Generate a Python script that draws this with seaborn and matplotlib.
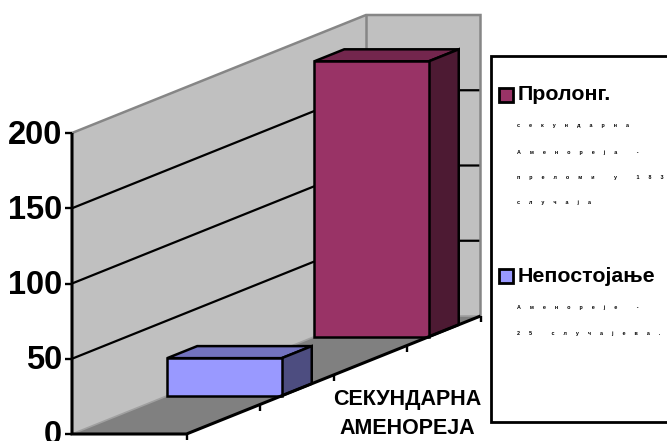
import matplotlib
matplotlib.use("Agg")
import matplotlib.pyplot as plt
from matplotlib.patches import Polygon, Rectangle
import pandas as pd
import seaborn as sns

plt.rcParams["font.family"] = ["Liberation Sans", "DejaVu Sans"]

# Chart data
series_names = ["Непостојање", "Пролонг."]
series_values = [25, 183]
series_slots = [1, 3]          # position of each series along the depth axis
series_colors = ["#9999FF", "#993366"]
top_colors = ["#7373BF", "#73264D"]
side_colors = ["#4D4D80", "#4D1A33"]
y_ticks = [0, 50, 100, 150, 200]
category_label = "СЕКУНДАРНА\nАМЕНОРЕЈА"
legend_groups = [
    ("Пролонг.", "#993366", ["секундарна", "Аменореја -", "преломи у 183", "случаја"]),
    ("Непостојање", "#9999FF", ["Аменореје -", "25 случајева."]),
]

W, H = 667, 441
fig = plt.figure(figsize=(W / 100, H / 100), dpi=100)
ax = fig.add_axes([0, 0, 1, 1])

# Single full-figure axes: x runs in pixels, y in chart units (1.5 px per unit)
PX = 1.505
Y0_PIXEL = 434
ax.set_xlim(0, W)
ax.set_ylim(-(H - Y0_PIXEL) / PX, Y0_PIXEL / PX)

# Oblique projection of the depth axis
X0, FLOOR_W = 72, 114.5
DEPTH_X, DEPTH_Y = 294, 118 / PX
VMAX = 200
SLOTS = 4
BAR_DEPTH = 0.102


def proj(u, depth, value):
    """Map (width fraction, depth fraction, value) to axes data coordinates."""
    return X0 + FLOOR_W * u + DEPTH_X * depth, value + DEPTH_Y * depth


def face(points, color, edge=None, lw=0.0, z=1):
    ax.add_patch(Polygon([proj(*p) for p in points], closed=True, facecolor=color,
                         edgecolor=edge or color, linewidth=lw, zorder=z, joinstyle="miter"))


def line(points, color, lw, z=2):
    xs, ys = zip(*[proj(*p) for p in points])
    ax.plot(xs, ys, color=color, lw=lw, zorder=z, solid_capstyle="butt",
            solid_joinstyle="miter", clip_on=False)


# Front faces come from the bar plot, then move to their place along the depth axis
frame = pd.DataFrame({"series": series_names, "value": series_values})
sns.barplot(data=frame, x="series", y="value", hue="series", palette=series_colors,
            saturation=1, legend=False, dodge=False, ax=ax)
ax.set_xlim(0, W)
ax.set_ylim(-(H - Y0_PIXEL) / PX, Y0_PIXEL / PX)
bars = [bar for container in ax.containers for bar in container]

# Walls and floor
GREY = "#868686"
face([(0, 0, 0), (0, 1, 0), (0, 1, VMAX), (0, 0, VMAX)], "#C0C0C0")
face([(0, 1, 0), (1, 1, 0), (1, 1, VMAX), (0, 1, VMAX)], "#C0C0C0")
face([(0, 0, 0), (1, 0, 0), (1, 1, 0), (0, 1, 0)], "#808080")

# Gridlines
for v in y_ticks[1:-1]:
    line([(0, 0, v), (0, 1, v), (1, 1, v)], "black", 1.6)
line([(0, 0, VMAX), (0, 1, VMAX), (1, 1, VMAX), (1, 1, 0)], GREY, 1.8)
line([(0, 1, VMAX), (0, 1, 0)], GREY, 1.8)
line([(0, 0, 0), (0, 1, 0), (1, 1, 0)], "#A0A0A0", 1.2)

for bar, value, slot, top, side in zip(bars, series_values, series_slots,
                                       top_colors, side_colors):
    d0 = (slot + 0.5) / SLOTS - BAR_DEPTH / 2
    d1 = d0 + BAR_DEPTH
    x0, base = proj(0, d0, 0)
    bar.set_x(x0)
    bar.set_y(base)
    bar.set_width(FLOOR_W)
    bar.set_edgecolor("black")
    bar.set_linewidth(1.8)
    bar.set_zorder(4)
    bar.set_joinstyle("miter")
    face([(0, d0, value), (1, d0, value), (1, d1, value), (0, d1, value)], top, "black", 1.8, 3)
    face([(1, d0, 0), (1, d1, 0), (1, d1, value), (1, d0, value)], side, "black", 1.8, 3)

# Axes lines and ticks
line([(0, 0, VMAX), (0, 0, 0), (1, 0, 0), (1, 1, 0)], "black", 2.2, 5)
for v in y_ticks:
    x, y = proj(0, 0, v)
    ax.plot([x - 7, x], [y, y], color="black", lw=1.7, zorder=5, solid_capstyle="butt", clip_on=False)
    ax.text(x - 10, y - 2 / PX, str(v), ha="right", va="center", fontsize=23.5, fontweight="bold",
            color="black")
for i in range(SLOTS + 1):
    x, y = proj(1, i / SLOTS, 0)
    ax.plot([x, x], [y, y - 6 / PX], color="black", lw=1.7, zorder=5, solid_capstyle="butt", clip_on=False)

ax.text(407, -(413.5 - Y0_PIXEL) / PX, category_label, ha="center", va="center",
        fontsize=15.5, fontweight="bold", color="black", linespacing=1.5)
ax.axis("off")


# Legend panel, positioned in figure fractions
def fx(px):
    return px / W


def fy(px):
    return 1 - px / H


fig.add_artist(Rectangle((fx(491), fy(422)), fx(W + 10 - 491), fy(56) - fy(422),
                         transform=fig.transFigure, facecolor="white",
                         edgecolor="black", linewidth=2.0, zorder=6))

LEGEND_TITLE_Y = [95, 276]
LEGEND_LINE_Y = [[126, 152.5, 178, 203], [307, 333]]
for (title, color, lines), ty, ly in zip(legend_groups, LEGEND_TITLE_Y, LEGEND_LINE_Y):
    fig.add_artist(Rectangle((fx(498.5), fy(ty + 7)), fx(14), fy(ty - 7) - fy(ty + 7),
                             transform=fig.transFigure, facecolor=color,
                             edgecolor="black", linewidth=2.0, zorder=7))
    fig.text(fx(518), fy(ty), title, ha="left", va="center", fontsize=15.4,
             fontweight="bold", color="black", zorder=7)
    for text, y in zip(lines, ly):
        spaced = "      ".join(text)
        fig.text(fx(517), fy(y), spaced, ha="left", va="center", fontsize=3.9,
                 fontweight="bold", color="black", zorder=7)

fig.savefig("out.png", dpi=100)
